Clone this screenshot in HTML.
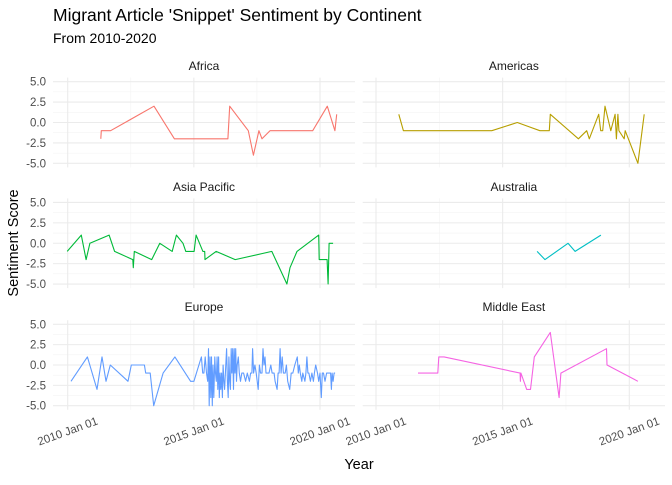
<!DOCTYPE html>
<html><head><meta charset="utf-8"><style>
body{margin:0;background:#fff;}
svg text{font-family:"Liberation Sans",sans-serif;}
</style></head><body>
<svg id="chart" width="672" height="480" xmlns="http://www.w3.org/2000/svg">
<text x="53" y="21" font-size="17.5" fill="#000">Migrant Article 'Snippet' Sentiment by Continent</text>
<text x="53" y="43" font-size="14" fill="#000">From 2010-2020</text>
<text transform="translate(18,243) rotate(-90)" text-anchor="middle" font-size="14.5" fill="#000">Sentiment Score</text>
<text x="359" y="469" text-anchor="middle" font-size="14.5" fill="#000">Year</text>
<g id="panels"></g>
</svg>
<script>
const continents = ["Africa","Americas","Asia Pacific","Australia","Europe","Middle East"];
const colors = ["#F8766D","#B79F00","#00BA38","#00BFC4","#619CFF","#F564E3"];
const yTicks = [5.0, 2.5, 0.0, -2.5, -5.0];
const yTickLabels = ["5.0","2.5","0.0","-2.5","-5.0"];
const xTicks = [2010, 2015, 2020];
const xTickLabels = ["2010 Jan 01","2015 Jan 01","2020 Jan 01"];

const africaYears = [2011.31,2011.33,2011.70,2013.42,2014.23,2016.35,2016.42,2017.16,2017.36,2017.58,2017.70,2018.02,2019.71,2020.29,2020.59,2020.66];
const africaValues = [-2,-1,-1,2,-2,-2,2,-1,-4,-1,-2,-1,-1,2,-1,1];
const americasYears = [2010.90,2011.08,2014.57,2015.58,2016.47,2016.84,2016.88,2017.99,2018.32,2018.42,2018.79,2018.87,2018.95,2019.04,2019.27,2019.44,2019.49,2019.55,2019.59,2019.80,2019.84,2020.34,2020.59];
const americasValues = [1,-1,-1,0,-1,-1,1,-2,-1,-2,1,-1,-1,2,-1,1,-2,1,-1,-2,-1,-5,1];
const asiaYears = [2009.98,2010.54,2010.73,2010.88,2011.64,2011.86,2012.58,2012.60,2012.64,2013.33,2013.65,2014.14,2014.31,2014.57,2014.68,2015.01,2015.09,2015.36,2015.43,2015.44,2015.88,2016.64,2018.09,2018.69,2018.81,2019.09,2019.95,2019.97,2020.28,2020.32,2020.36,2020.52];
const asiaValues = [-1,1,-2,0,1,-1,-2,-3,-1,-2,0,-1,1,0,-1,-1,1,-1,-1,-2,-1,-2,-1,-5,-3,-1,1,-2,-2,-5,0,0];
const australiaYears = [2016.36,2016.67,2017.58,2017.86,2018.88];
const australiaValues = [-1,-2,0,-1,1];
const europeYears = [2010.13,2010.78,2011.16,2011.36,2011.52,2011.69,2012.39,2012.52,2013.04,2013.09,2013.27,2013.41,2013.78,2014.25,2014.87,2015.00,2015.30,2015.35,2015.40,2015.45,2015.50,2015.55,2015.58,2015.61,2015.64,2015.67,2015.70,2015.73,2015.76,2015.79,2015.83,2015.86,2015.89,2015.92,2015.95,2015.98,2016.01,2016.04,2016.07,2016.10,2016.13,2016.16,2016.19,2016.22,2016.25,2016.30,2016.33,2016.36,2016.39,2016.42,2016.45,2016.48,2016.51,2016.54,2016.57,2016.60,2016.63,2016.66,2016.69,2016.72,2016.76,2016.80,2016.85,2016.90,2016.97,2017.05,2017.12,2017.20,2017.25,2017.30,2017.33,2017.37,2017.42,2017.47,2017.55,2017.60,2017.64,2017.70,2017.74,2017.78,2017.82,2017.86,2017.92,2017.98,2018.05,2018.10,2018.18,2018.22,2018.30,2018.34,2018.38,2018.42,2018.46,2018.50,2018.55,2018.62,2018.67,2018.72,2018.80,2018.86,2018.92,2019.00,2019.10,2019.14,2019.18,2019.22,2019.28,2019.32,2019.40,2019.44,2019.48,2019.52,2019.56,2019.62,2019.68,2019.74,2019.78,2019.83,2019.90,2019.95,2020.00,2020.05,2020.09,2020.14,2020.20,2020.26,2020.35,2020.42,2020.45,2020.48,2020.52,2020.56,2020.60];
const europeValues = [-2,1,-3,1,-2,0,-2,0,0,-1,-1,-5,-1,1,-2,-2,1,-1,-1,1,-1,-2,2,-5,1,-4,1,-5,0,-4,1,-1,-2,1,-3,1,-4,-1,-3,-1,-4,0,-2,-3,-1,2,-2,-4,1,-2,-3,2,-1,2,-3,2,-1,2,-2,0,1,-1,-2,-1,-1,-2,-1,-2,-1,-1,2,-1,0,-1,-3,0,-1,-1,2,0,1,-1,-1,-1,0,-1,-1,-2,-3,-1,-1,2,-1,1,-1,-1,0,-2,-3,-1,-1,0,1,-1,0,-1,-2,-1,-2,-1,1,-1,-1,-2,-1,-2,-1,0,-1,-2,-1,-4,-1,-1,-2,-1,-1,-1,-3,-1,-2,-1,-1];
const meYears = [2011.66,2012.44,2012.48,2012.69,2015.69,2015.70,2015.72,2015.95,2016.10,2016.25,2016.88,2017.23,2017.30,2019.10,2019.12,2020.34];
const meValues = [-1,-1,1,1,-1,-2,-1,-3,-3,1,4,-4,-1,2,0,-2];

const seriesYears = [africaYears,americasYears,asiaYears,australiaYears,europeYears,meYears];
const seriesValues = [africaValues,americasValues,asiaValues,australiaValues,europeValues,meValues];

const NS="http://www.w3.org/2000/svg";
const g=document.getElementById('panels');
function mk(tag,attrs,parent){const e=document.createElementNS(NS,tag);for(const k in attrs)e.setAttribute(k,attrs[k]);(parent||g).appendChild(e);return e;}
const colX=[{left:53,right:355,x2010:67.7,ppy:25.23},{left:362.7,right:665,x2010:376,ppy:25.33}];
const rowY=[{top:77.6,bottom:167.4},{top:198.4,bottom:288.1},{top:320.2,bottom:409.8}];
const stripY=[70,191,311];
for(let i=0;i<continents.length;i++){
  const c=colX[i%2], r=rowY[Math.floor(i/2)];
  const xs=y=>c.x2010+(y-2010)*c.ppy;
  const ys=v=>r.top+(5.5-v)/11*(r.bottom-r.top);
  const pg=mk('g',{});
  
  
  // minor grid
  [3.75,1.25,-1.25,-3.75].forEach(v=>mk('line',{x1:c.left,x2:c.right,y1:ys(v),y2:ys(v),stroke:'#f3f3f3','stroke-width':0.6},pg));
  [2007.5,2012.5,2017.5,2022.5].forEach(y=>{const x=xs(y);if(x>c.left&&x<c.right)mk('line',{x1:x,x2:x,y1:r.top,y2:r.bottom,stroke:'#f3f3f3','stroke-width':0.6},pg);});
  yTicks.forEach(v=>mk('line',{x1:c.left,x2:c.right,y1:ys(v),y2:ys(v),stroke:'#ebebeb','stroke-width':1.1},pg));
  xTicks.forEach(y=>mk('line',{x1:xs(y),x2:xs(y),y1:r.top,y2:r.bottom,stroke:'#ebebeb','stroke-width':1.1},pg));
  const st=mk('text',{x:(c.left+c.right)/2,y:stripY[Math.floor(i/2)],'text-anchor':'middle','font-size':12,fill:'#1a1a1a'},pg);
  st.textContent=continents[i];
  
  
  if(i%2===0){
    yTicks.forEach((v,k)=>{const t=mk('text',{x:46,y:ys(v)+4,'text-anchor':'end','font-size':11.5,fill:'#4d4d4d'},pg);t.textContent=yTickLabels[k];
      
      });
  }
  if(i>=4){
    xTicks.forEach((y,k)=>{const tx=xs(y)+31,ty=424;const t=mk('text',{x:tx,y:ty,'text-anchor':'end','font-size':11.5,fill:'#4d4d4d',transform:`rotate(-20 ${tx} ${ty})`},pg);t.textContent=xTickLabels[k];
      
      });
  }
  const yrs=seriesYears[i], vals=seriesValues[i];
  const d=yrs.map((y,k)=>(k?'L':'M')+xs(y).toFixed(1)+' '+ys(vals[k]).toFixed(1)).join(' ');
  const p=mk('path',{d:d,fill:'none',stroke:colors[i],'stroke-width':1.1,'stroke-linejoin':'round'},pg);
  
  
}
</script>
</body></html>
